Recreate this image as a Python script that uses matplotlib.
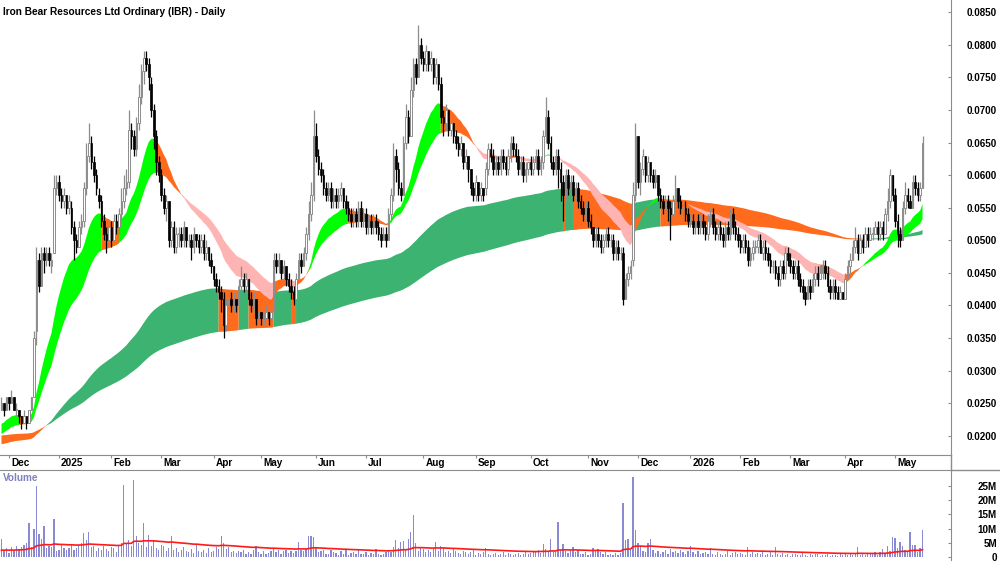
import numpy as np
import pandas as pd
import matplotlib
matplotlib.use('Agg')
import matplotlib.pyplot as plt
from matplotlib.lines import Line2D
from matplotlib import transforms

plt.rcParams['font.family'] = ['Liberation Sans', 'DejaVu Sans']
plt.rcParams['font.weight'] = 'bold'

title = "Iron Bear Resources Ltd Ordinary (IBR) - Daily"

# daily prices in units of 0.001 (ASX tick)
opens = [24,25,24,26,25,26,24,24,23,22,23,22,24,
         26,36,47,43,48,47,48,46,48,
         58,59,57,56,57,55,55,52,50,49,52,
         53,58,63,65,62,60,57,56,53,51,50,52,50,53,52,54,56,
         58,59,67,66,64,68,72,76,78,77,74,70,66,62,
         60,57,55,56,50,52,49,51,51,50,52,50,50,49,51,50,49,50,48,
         49,47,46,44,43,42,41,37,40,41,40,41,40,43,44,43,44,41,40,41,38,39,38,38,39,38,
         39,47,46,47,45,46,44,43,42,41,44,47,46,48,51,54,57,
         66,63,61,60,58,57,58,56,57,56,57,58,56,55,54,53,54,53,55,53,54,52,53,52,53,52,51,50,51,50,54,57,63,61,58,
         57,65,69,66,73,77,75,80,78,77,79,77,78,75,77,74,69,68,70,67,68,66,65,64,65,62,63,
         61,58,57,59,57,58,58,61,64,63,61,62,61,63,62,61,63,65,64,63,61,62,60,61,62,61,62,63,61,62,
         66,69,65,62,61,63,61,59,57,60,58,59,57,58,56,55,54,55,53,52,50,51,50,49,50,51,50,50,48,49,48,
         48,41,44,45,47,57,66,59,61,63,60,62,60,59,60,57,56,55,56,55,54,56,58,56,55,55,54,53,53,52,53,
         52,53,52,51,53,54,52,51,52,51,50,52,51,54,52,51,50,49,50,49,47,48,49,49,50,48,49,48,47,46,46,45,
         44,46,45,48,47,46,45,46,44,43,42,41,43,42,44,45,44,45,46,45,43,42,43,42,41,42,41,44,46,47,
         49,50,48,50,49,51,50,51,51,52,51,52,51,54,56,60,57,53,51,50,55,57,56,55,59,58,57,58]
highs = [26,25,26,26,27,26,25,24,23,24,23,24,26,
         36,49,48,49,49,49,49,48,60,
         60,60,58,58,57,57,56,53,51,53,54,
         59,65,68,66,63,61,58,57,54,52,53,53,54,54,55,58,60,
         61,70,68,67,69,74,77,79,79,78,75,71,67,63,
         61,58,57,56,53,53,52,52,52,53,52,51,51,52,51,51,51,51,50,
         49,48,46,45,44,43,42,41,42,42,42,41,44,46,45,45,44,42,42,41,40,39,39,40,39,40,
         48,48,48,47,47,46,45,44,43,45,48,48,49,52,56,59,70,
         68,64,62,61,59,59,59,58,58,58,59,58,57,56,55,55,55,56,56,55,55,54,54,54,54,53,52,52,52,55,58,65,64,62,59,
         66,71,70,75,78,78,83,81,79,80,79,79,78,78,77,75,70,71,70,69,68,67,66,66,65,64,63,
         61,59,60,59,59,58,62,65,65,64,63,63,64,64,63,64,66,66,65,64,63,63,62,62,63,63,64,64,63,67,
         72,70,66,63,64,64,62,60,61,61,60,60,59,59,57,56,56,56,54,52,52,52,51,51,52,52,51,51,50,50,49,
         49,45,46,47,59,68,66,62,64,63,63,62,61,61,60,58,57,57,57,56,57,60,58,57,56,56,55,54,54,54,
         54,54,54,53,54,55,55,53,53,53,52,53,53,55,55,53,52,51,51,51,50,49,50,50,51,51,50,50,49,48,47,47,46,
         47,47,49,49,48,47,47,47,45,44,43,44,44,45,46,46,46,47,47,46,44,44,44,43,43,42,45,47,48,50,
         52,51,51,51,52,52,52,52,53,53,53,53,55,58,61,60,58,54,52,56,59,58,57,60,60,59,59,66]
lows = [24,23,24,24,25,24,23,22,21,22,21,22,24,
        26,34,42,43,45,46,46,45,48,
        57,56,55,55,54,54,51,47,48,49,51,
        52,57,62,61,59,57,55,52,50,48,49,49,50,51,51,53,55,
        57,58,64,63,63,67,71,74,76,73,69,64,60,59,
        56,54,53,49,49,48,48,49,49,49,49,49,47,48,49,48,48,47,47,
        46,45,43,42,41,39,35,36,39,39,39,39,40,42,42,42,40,39,39,37,37,37,37,38,37,37,
        39,45,45,44,44,43,42,41,40,41,44,45,46,47,50,53,56,
        62,60,59,57,56,56,55,55,55,55,56,55,54,53,52,52,52,52,52,52,51,51,51,51,51,50,49,50,49,50,53,56,59,57,56,
        57,64,65,66,72,74,75,77,76,76,76,76,74,74,73,68,66,67,66,66,65,64,63,63,61,61,59,
        57,56,56,56,56,56,57,60,62,60,60,60,60,61,60,60,62,63,62,60,60,59,59,60,60,60,61,60,60,61,
        65,64,61,60,60,58,56,53,56,57,53,56,56,55,54,53,53,52,51,49,49,49,48,48,49,49,49,47,47,47,47,
        40,41,43,44,46,56,58,57,60,59,59,59,58,58,56,55,54,54,53,50,53,56,55,54,53,53,52,52,51,51,
        51,51,51,50,50,52,51,50,50,50,49,49,50,50,51,50,49,48,48,48,46,46,47,48,48,48,47,47,46,45,45,44,43,
        43,44,44,46,45,44,44,43,42,41,40,41,41,42,43,43,44,44,44,42,41,41,41,41,41,41,41,44,45,47,
        48,47,48,48,49,49,50,50,51,50,50,50,51,53,55,56,52,49,49,50,54,55,55,55,57,56,56,58]
closes = [25,24,26,25,26,24,24,23,22,23,22,24,26,
          35,47,43,48,47,48,47,47,58,
          59,57,56,57,55,56,52,50,49,52,53,
          58,63,65,62,60,58,56,53,51,50,52,50,53,52,54,56,58,
          59,67,66,64,68,72,76,78,77,75,70,66,62,60,
          57,55,56,50,52,49,51,51,50,52,50,50,49,51,50,49,50,48,49,
          47,46,44,43,42,41,37,40,41,40,41,40,43,44,43,44,41,40,41,38,39,38,38,39,38,39,
          47,46,47,45,46,44,43,42,41,44,47,46,48,51,54,57,66,
          63,61,60,58,57,58,56,57,56,57,58,56,55,54,53,54,53,55,53,54,52,53,52,53,52,51,50,51,50,54,57,63,61,58,57,
          65,69,66,73,77,75,80,78,77,79,77,78,75,77,74,69,68,70,67,68,66,65,64,65,62,63,61,
          58,57,59,57,58,57,61,64,63,61,62,61,63,62,61,63,65,64,63,61,62,60,61,62,61,62,63,61,62,66,
          69,65,62,61,63,61,59,57,60,58,59,57,58,56,55,54,55,53,52,50,51,50,49,50,51,50,50,48,49,48,48,
          41,44,45,46,57,66,59,61,63,60,62,60,59,60,57,56,55,56,55,54,56,58,56,55,55,54,53,53,52,53,
          52,53,52,51,53,54,52,51,52,51,50,52,51,54,52,51,50,49,50,49,47,48,49,49,50,48,49,48,47,46,46,45,44,
          46,45,48,47,46,45,46,44,43,42,41,43,42,44,45,44,45,46,45,43,42,43,42,41,42,41,44,46,47,49,
          50,48,50,49,51,50,51,51,52,51,52,51,54,56,60,57,53,51,50,55,57,56,55,59,58,57,58,65]

# daily volume, millions of shares
volume_m = [6.2,2.1,3.0,1.5,3.4,2.2,4.0,2.8,3.5,4.4, 5.0,12.0,3.6,10.0,25.0,8.0,6.5,11.0,3.2,4.0,
            3.5,13.5,2.0,2.6,4.2,3.0,2.6,3.0,4.5,2.3, 3.1,4.4,5.0,8.5,6.0,8.7,3.4,4.0,2.2,3.1,
            2.5,3.8,2.7,2.2,3.6,3.0,1.8,4.2,5.0,25.5, 4.5,6.0,3.8,27.0,7.4,5.0,4.4,12.0,3.6,7.6,
            4.0,6.0,3.0,2.6,4.2,3.8,2.0,3.2,7.4,2.4, 3.2,1.8,2.4,3.4,2.1,1.6,2.8,1.4,4.7,2.0,
            1.7,2.5,1.3,3.0,1.9,2.2,3.6,2.8,7.4,5.0, 2.8,3.4,1.8,2.0,1.4,2.2,1.6,2.6,1.2,1.6,
            0.9,2.4,4.0,1.8,1.2,2.0,1.0,1.4,2.2,3.2, 1.8,2.6,1.2,2.2,2.6,1.5,2.0,1.3,2.2,5.3,
            2.4,2.0,2.8,7.4,7.4,7.0,3.0,1.6,2.2,2.4, 1.2,1.0,2.6,1.6,1.4,0.8,2.0,1.1,2.8,0.8,
            1.4,1.9,0.9,2.6,1.2,1.0,1.8,0.7,1.4,1.0, 2.7,1.2,0.8,1.0,1.6,2.6,1.8,3.4,6.0,3.0,
            5.3,5.7,2.4,6.2,8.8,14.7,5.0,2.2,3.6,2.8, 1.8,2.4,1.6,2.8,5.3,2.0,4.0,3.0,1.6,2.2,
            1.3,2.8,2.0,1.4,1.0,2.2,1.7,1.2,1.6,2.6, 0.8,1.4,1.0,1.8,3.0,1.2,0.6,0.9,1.4,0.7,
            1.1,1.6,0.8,1.5,1.2,0.6,1.0,1.4,0.8,1.2, 1.6,0.9,1.3,2.0,1.6,2.4,1.4,4.6,2.8,1.8,
            6.2,2.0,1.6,12.3,2.4,4.7,2.0,1.4,2.6,3.5, 1.8,2.6,1.2,1.0,1.6,0.8,1.2,3.0,2.2,2.7,
            1.6,1.0,1.8,0.7,1.2,0.6,1.4,0.8,1.5,19.0, 6.0,6.2,2.4,28.0,9.4,5.0,4.0,2.2,1.8,5.0,
            6.2,2.6,1.4,2.2,1.0,1.8,2.4,1.2,2.8,1.6, 2.0,1.3,2.6,1.8,1.1,2.2,4.0,1.6,1.2,2.0,
            0.9,1.4,1.8,1.0,3.0,1.2,0.8,1.6,1.0,0.7, 1.2,2.0,0.8,1.3,1.6,0.9,1.4,1.1,0.8,3.5,
            1.2,1.8,0.9,1.4,1.0,2.2,0.8,1.2,1.6,0.7, 3.5,1.0,0.6,1.3,0.8,1.1,0.5,0.9,1.2,0.6,
            0.8,1.4,0.7,0.5,1.0,0.6,0.9,1.2,0.4,0.8, 0.6,1.1,0.5,0.8,0.7,0.4,0.9,0.6,1.2,0.8,
            1.0,0.6,1.3,3.5,0.8,1.1,0.7,1.4,1.0,0.9, 1.6,0.8,1.9,2.7,1.4,4.0,2.2,7.0,6.7,3.0,
            5.3,4.0,2.5,1.8,8.8,4.3,4.3,1.6,3.0,9.4]

# indicator levels at the left edge (history before the window)
short_start = (0.0215, 0.0200)   # fast, slow
long_start = (0.0186, 0.0200)
vol_ma_start = 2.3

asx_holidays = ['2024-12-25', '2024-12-26', '2025-01-01', '2025-01-27', '2025-04-18',
                '2025-04-21', '2025-04-25', '2025-06-09', '2025-12-25', '2025-12-26',
                '2026-01-01', '2026-01-26', '2026-04-03', '2026-04-06']

n = len(closes)
dates = pd.bdate_range('2024-11-27', periods=n, freq='C', holidays=asx_holidays)
x = np.arange(n)
o = np.array(opens) / 1000
c = np.array(closes) / 1000
h = np.maximum(np.array(highs) / 1000, np.maximum(o, c))
l = np.minimum(np.array(lows) / 1000, np.minimum(o, c))
vol = np.array(volume_m)


def ema(values, period, start):
    a = 2 / (period + 1)
    e = start
    out = []
    for v in values:
        e = e + a * (v - e)
        out.append(e)
    return np.array(out)


s_fast = ema(c, 20, short_start[0])
s_slow = ema(c, 35, short_start[1])
l_fast = ema(c, 140, long_start[0])
l_slow = ema(c, 250, long_start[1])
vol_ma = ema(vol, 60, vol_ma_start)

s_rise = np.diff(np.r_[short_start[0], s_fast]) > 0
l_rise = np.diff(np.r_[long_start[0], l_fast]) > 0
short_state = np.where((s_fast > s_slow) & s_rise, 0, np.where((s_fast < s_slow) & ~s_rise, 2, 1))
long_state = np.where((l_fast > l_slow) & l_rise, 0, 1)

W, H = 1000, 562


def rect(x0, y0, x1, y1):
    return [x0 / W, 1 - y1 / H, (x1 - x0) / W, (y1 - y0) / H]


fig = plt.figure(figsize=(10, 5.62), dpi=100)
ax = fig.add_axes(rect(0, 0, 951, 455))
axv = fig.add_axes(rect(0, 470, 951, 560))
grey = '#8c8c8c'


def fill_states(a, lo, hi, state, colours, z):
    for k, col in colours.items():
        m = state == k
        m = m | np.r_[False, m[:-1]]
        a.fill_between(x, np.minimum(lo, hi), np.maximum(lo, hi), where=m,
                       color=col, linewidth=0, zorder=z)


fill_states(ax, l_fast, l_slow, long_state, {0: '#3cb371', 1: '#ff6a1c'}, 1)
fill_states(ax, s_fast, s_slow, short_state, {0: '#00ff00', 1: '#ff6a1c', 2: '#ffb4b4'}, 2)

# candles
up = c >= o
ax.vlines(x[up], l[up], h[up], color=grey, linewidth=0.9, zorder=3)
ax.vlines(x[~up], l[~up], h[~up], color='black', linewidth=0.9, zorder=3)
body_lo = np.minimum(o, c)
body_h = np.maximum(np.abs(c - o), 0.00012)
ax.bar(x[up], body_h[up], bottom=body_lo[up], width=0.62, color='white',
       edgecolor=grey, linewidth=0.7, zorder=4)
ax.bar(x[~up], body_h[~up], bottom=body_lo[~up], width=0.62, color='black',
       edgecolor='black', linewidth=0.5, zorder=4)

ax.set_xlim(-0.6, 380.4)
ax.set_ylim(0.01704, 0.08689)
yt = np.arange(0.020, 0.0851, 0.005)
ax.yaxis.tick_right()
ax.set_yticks(yt)
ax.set_yticklabels([f'{v:.4f}' for v in yt], ha='right')
ax.tick_params(axis='y', direction='in', length=2.5, pad=33, labelsize=7.1, color=grey)

# month ticks
month_idx = [i for i in range(1, n) if dates[i].month != dates[i - 1].month]
month_lab = [str(dates[i].year) if dates[i].month == 1 else dates[i].strftime('%b') for i in month_idx]
ax.set_xticks(month_idx)
ax.set_xticklabels([])
ax.tick_params(axis='x', direction='out', length=2.5, color=grey)
tr = transforms.blended_transform_factory(ax.transData, ax.transAxes)
for i, lab in zip(month_idx, month_lab):
    ax.text(i + 0.8, -8 / 455, lab, transform=tr, ha='left', va='center', fontsize=7.2)

for s in ['left', 'top']:
    ax.spines[s].set_visible(False)
for s in ['bottom', 'right']:
    ax.spines[s].set_color(grey)

# volume panel
axv.bar(x, vol, width=0.5, color='#8a8ad2', linewidth=0)
axv.plot(x, vol_ma, color='#ff1a1a', linewidth=1.2)
axv.set_xlim(-0.6, 380.4)
axv.set_ylim(-1.056, 30.63)
axv.yaxis.tick_right()
vt = [0, 5, 10, 15, 20, 25]
axv.set_yticks(vt)
axv.set_yticklabels(['0'] + [f'{v}M' for v in vt[1:]], ha='right')
axv.tick_params(axis='y', direction='in', length=2.5, pad=33, labelsize=7.1, color=grey)
axv.set_xticks([])
for s in ['left', 'bottom']:
    axv.spines[s].set_visible(False)
for s in ['top', 'right']:
    axv.spines[s].set_color(grey)

fig.add_artist(Line2D([951 / W, 951 / W], [1 - 455 / H, 1 - 470 / H], color=grey, lw=1,
                      transform=fig.transFigure))
fig.add_artist(Line2D([951 / W, 1.0], [1 - 470 / H, 1 - 470 / H], color=grey, lw=1,
                      transform=fig.transFigure))

fig.text(3 / W, 1 - 12 / H, title, fontsize=7.3, fontweight='bold', va='center')
fig.text(3 / W, 1 - 478 / H, 'Volume', fontsize=7.2, fontweight='bold', color='#8080c0', va='center')

fig.savefig('out.png', dpi=100)
